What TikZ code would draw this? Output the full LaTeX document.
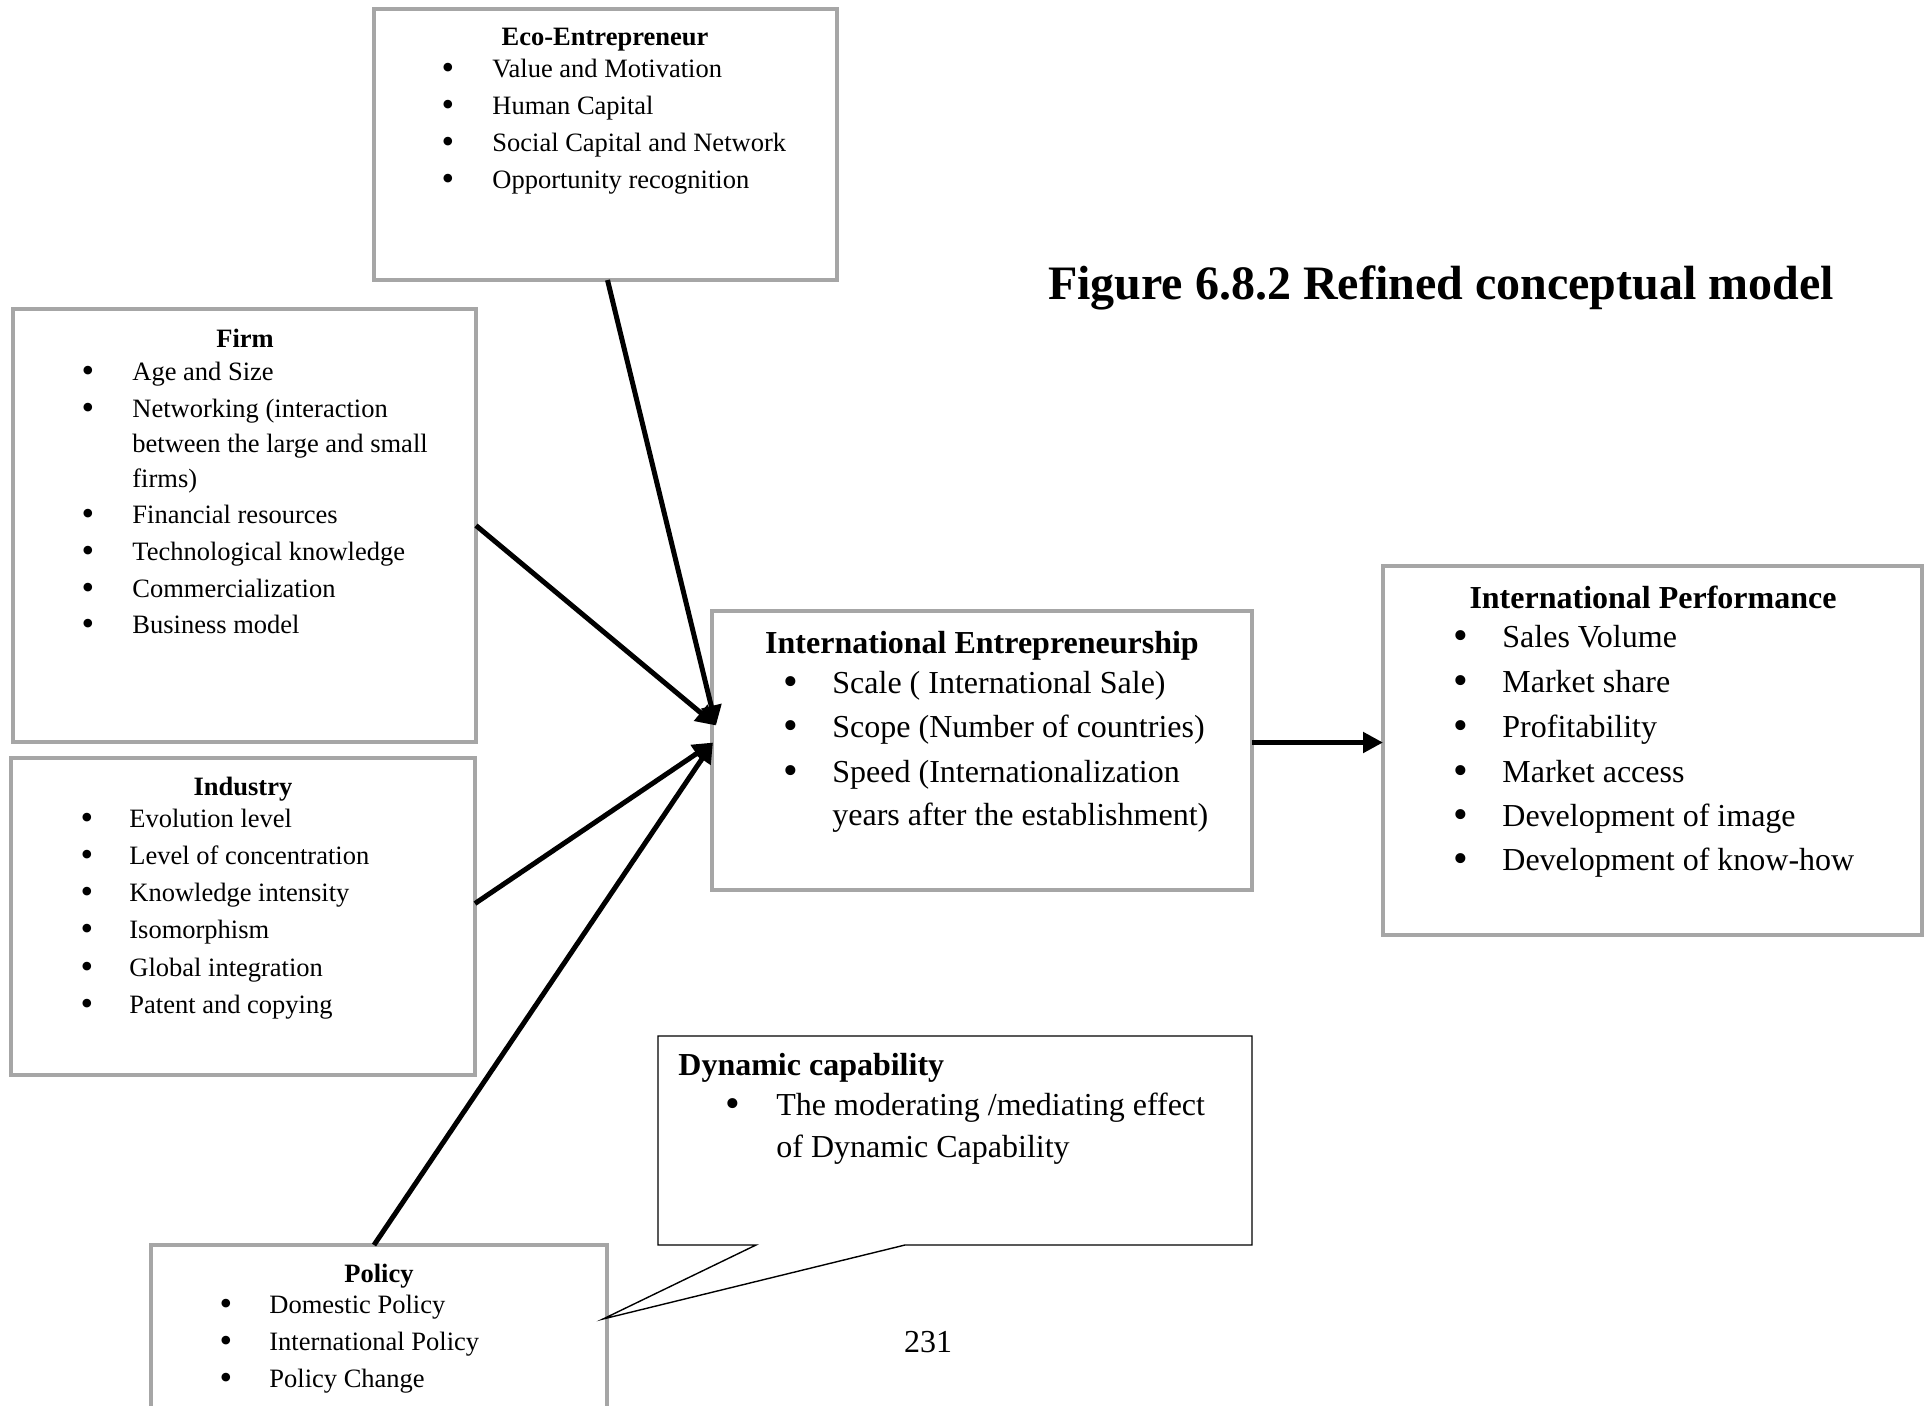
\documentclass[tikz,border=0pt]{standalone}
\usepackage{fontspec}
\setmainfont{Liberation Serif}
\usetikzlibrary{arrows.meta,calc}
\definecolor{boxgray}{RGB}{166,166,166}
\begin{document}
\begin{tikzpicture}[x=0.5pt,y=-0.5pt,
  box/.style={draw=boxgray,line width=2.2pt,rectangle,anchor=north west,inner sep=0pt,outer sep=0pt},
  txt/.style={anchor=base west,inner sep=0pt,font=\fontsize{13.25}{15}\selectfont},
  bul/.style={anchor=base,inner sep=0pt,yshift=-1pt,font=\fontsize{18}{19}\selectfont},
  head/.style={anchor=base,inner sep=0pt,font=\fontsize{13.25}{15}\selectfont\bfseries},
  txtL/.style={anchor=base west,inner sep=0pt,font=\fontsize{16}{19}\selectfont},
  bulL/.style={anchor=base,inner sep=0pt,yshift=-1.25pt,font=\fontsize{21}{22}\selectfont},
  headL/.style={anchor=base,inner sep=0pt,font=\fontsize{16}{19}\selectfont\bfseries},
  arr/.style={line width=2.5pt,-{Triangle[length=10pt,width=10pt]}},
]
\useasboundingbox (0,0) rectangle (1924,1405);

% ---------- boxes ----------
\node[box,minimum width=231.5pt,minimum height=135.5pt] (eco) at (374,9) {};
\node[box,minimum width=231.5pt,minimum height=216.5pt] (firm) at (13,309) {};
\node[box,minimum width=232pt,minimum height=158.5pt] (ind) at (11,758) {};
\node[box,minimum width=270pt,minimum height=139.5pt] (ie) at (712,611) {};
\node[box,minimum width=269.5pt,minimum height=184.5pt] (ip) at (1383,566) {};
\node[box,minimum width=228pt,minimum height=100pt] (pol) at (151,1245) {};
\node[rectangle,anchor=north west,inner sep=0pt,outer sep=0pt,minimum width=297pt,minimum height=104.5pt] (dyn) at (658,1036) {};

% ---------- title ----------
\node[anchor=base,inner sep=0pt,font=\fontsize{24}{28}\selectfont\bfseries] (title) at (1441,299) {Figure 6.8.2 Refined conceptual model};

% ---------- Eco-Entrepreneur ----------
\node[head] (ecoh) at (605,45) {Eco-Entrepreneur};
\node[bul] (ecob1) at (448,77) {\textbullet};
\node[txt] (ecot1) at (492,77) {Value and Motivation};
\node[bul] (ecob2) at (448,114) {\textbullet};
\node[txt] (ecot2) at (492,114) {Human Capital};
\node[bul] (ecob3) at (448,151) {\textbullet};
\node[txt] (ecot3) at (492,151) {Social Capital and Network};
\node[bul] (ecob4) at (448,188) {\textbullet};
\node[txt] (ecot4) at (492,188) {Opportunity recognition};

% ---------- Firm ----------
\node[head] (firmh) at (245,347) {Firm};
\node[bul] (firmb1) at (88,380) {\textbullet};
\node[txt] (firmt1) at (132,380) {Age and Size};
\node[bul] (firmb2) at (88,417) {\textbullet};
\node[txt] (firmt2) at (132,417) {Networking (interaction};
\node[txt] (firmt2b) at (132,452) {between the large and small};
\node[txt] (firmt2c) at (132,487) {firms)};
\node[bul] (firmb3) at (88,523) {\textbullet};
\node[txt] (firmt3) at (132,523) {Financial resources};
\node[bul] (firmb4) at (88,560) {\textbullet};
\node[txt] (firmt4) at (132,560) {Technological knowledge};
\node[bul] (firmb5) at (88,597) {\textbullet};
\node[txt] (firmt5) at (132,597) {Commercialization};
\node[bul] (firmb6) at (88,633) {\textbullet};
\node[txt] (firmt6) at (132,633) {Business model};

% ---------- Industry ----------
\node[head] (indh) at (243,795) {Industry};
\node[bul] (indb1) at (87,827) {\textbullet};
\node[txt] (indt1) at (129,827) {Evolution level};
\node[bul] (indb2) at (87,864) {\textbullet};
\node[txt] (indt2) at (129,864) {Level of concentration};
\node[bul] (indb3) at (87,901) {\textbullet};
\node[txt] (indt3) at (129,901) {Knowledge intensity};
\node[bul] (indb4) at (87,938) {\textbullet};
\node[txt] (indt4) at (129,938) {Isomorphism};
\node[bul] (indb5) at (87,976) {\textbullet};
\node[txt] (indt5) at (129,976) {Global integration};
\node[bul] (indb6) at (87,1013) {\textbullet};
\node[txt] (indt6) at (129,1013) {Patent and copying};

% ---------- International Entrepreneurship ----------
\node[headL] (ieh) at (982,653) {International Entrepreneurship};
\node[bulL] (ieb1) at (791,693) {\textbullet};
\node[txtL] (iet1) at (832,693) {Scale ( International Sale)};
\node[bulL] (ieb2) at (791,737) {\textbullet};
\node[txtL] (iet2) at (832,737) {Scope (Number of countries)};
\node[bulL] (ieb3) at (791,782) {\textbullet};
\node[txtL] (iet3) at (832,782) {Speed (Internationalization};
\node[txtL] (iet3b) at (832,825) {years after the establishment)};

% ---------- International Performance ----------
\node[headL] (iph) at (1653,608) {International Performance};
\node[bulL] (ipb1) at (1461,647) {\textbullet};
\node[txtL] (ipt1) at (1502,647) {Sales Volume};
\node[bulL] (ipb2) at (1461,692) {\textbullet};
\node[txtL] (ipt2) at (1502,692) {Market share};
\node[bulL] (ipb3) at (1461,737) {\textbullet};
\node[txtL] (ipt3) at (1502,737) {Profitability};
\node[bulL] (ipb4) at (1461,782) {\textbullet};
\node[txtL] (ipt4) at (1502,782) {Market access};
\node[bulL] (ipb5) at (1461,826) {\textbullet};
\node[txtL] (ipt5) at (1502,826) {Development of image};
\node[bulL] (ipb6) at (1461,870) {\textbullet};
\node[txtL] (ipt6) at (1502,870) {Development of know-how};

% ---------- Dynamic capability ----------
\node[anchor=base west,inner sep=0pt,font=\fontsize{16}{19}\selectfont\bfseries] (dynh) at (678,1075) {Dynamic capability};
\node[bulL] (dynb1) at (733,1115) {\textbullet};
\node[txtL] (dynt1) at (776,1115) {The moderating /mediating effect};
\node[txtL] (dynt1b) at (776,1157) {of Dynamic Capability};

% ---------- Policy ----------
\node[head] (polh) at (379,1282) {Policy};
\node[bul] (polb1) at (226,1313) {\textbullet};
\node[txt] (polt1) at (269,1313) {Domestic Policy};
\node[bul] (polb2) at (226,1350) {\textbullet};
\node[txt] (polt2) at (269,1350) {International Policy};
\node[bul] (polb3) at (226,1387) {\textbullet};
\node[txt] (polt3) at (269,1387) {Policy Change};

% ---------- page number ----------
\node[anchor=base,inner sep=0pt,font=\fontsize{16}{19}\selectfont] (pagenum) at (928,1352) {231};

% ---------- callout outline ----------
\coordinate (tip) at ($(pol.north east)+(-4,74)$);
\draw[line width=0.7pt,line join=miter]
  ($(dyn.south west)+(98,0)$) -- (dyn.south west) -- (dyn.north west) -- (dyn.north east)
  -- (dyn.south east) -- ($(dyn.south west)+(247,0)$) -- (tip) -- cycle;

% ---------- connectors ----------
\coordinate (ieA) at ($(ie.west)+(4,-25)$);
\coordinate (ieB) at ($(ie.west)+(1,-8)$);
\draw[arr] ($(eco.south)+(2,0)$) -- (ieA);
\draw[arr] (firm.east) -- (ieA);
\draw[arr] ($(ind.east)+(0,-13)$) -- (ieB);
\draw[arr] ($(pol.north)+(-5,0)$) -- (ieB);
\draw[arr] ($(ie.east)+(0,-8)$) -- ($(ip.west)+(0,-8)$);
\end{tikzpicture}
\end{document}
